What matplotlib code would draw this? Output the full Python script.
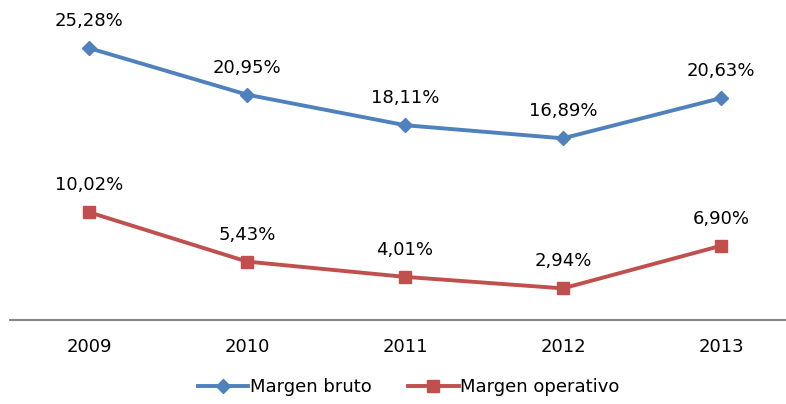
import matplotlib.pyplot as plt

years = ['2009', '2010', '2011', '2012', '2013']
margen_bruto = [25.28, 20.95, 18.11, 16.89, 20.63]
margen_operativo = [10.02, 5.43, 4.01, 2.94, 6.90]

plt.rcParams['font.family'] = ['DejaVu Sans']

fig = plt.figure(figsize=(7.86, 4.04), dpi=100)
ax = fig.add_axes([10 / 786, 84 / 404, 776 / 786, 320 / 404])

x = list(range(len(years)))
ax.plot(x, margen_bruto, color='#4F81BD', lw=2.8, marker='D', ms=7.5,
        label='Margen bruto')
ax.plot(x, margen_operativo, color='#C0504D', lw=2.8, marker='s', ms=9,
        label='Margen operativo')

for xi, v in zip(x, margen_bruto):
    ax.annotate(f'{v:.2f}%'.replace('.', ','), (xi, v), xytext=(0, 13),
                textcoords='offset points', ha='center', va='bottom', fontsize=13)
for xi, v in zip(x, margen_operativo):
    ax.annotate(f'{v:.2f}%'.replace('.', ','), (xi, v), xytext=(0, 13),
                textcoords='offset points', ha='center', va='bottom', fontsize=13)

ax.set_xlim(-0.5, (786 - 89) / 158)
ax.set_ylim(0, 29.75)
ax.set_xticks(x)
ax.set_xticklabels(years, fontsize=13)
ax.set_yticks([])
ax.tick_params(axis='x', length=0, pad=13)
for s in ['top', 'right', 'left']:
    ax.spines[s].set_visible(False)
ax.spines['bottom'].set_color('#868686')
ax.spines['bottom'].set_linewidth(1.5)

fig.legend(loc='center', bbox_to_anchor=(0.52, 17 / 404), ncol=2,
           frameon=False, fontsize=13, handlelength=2.8, handletextpad=0.1,
           columnspacing=2.0, borderaxespad=0)

fig.savefig('out.png', dpi=100)
